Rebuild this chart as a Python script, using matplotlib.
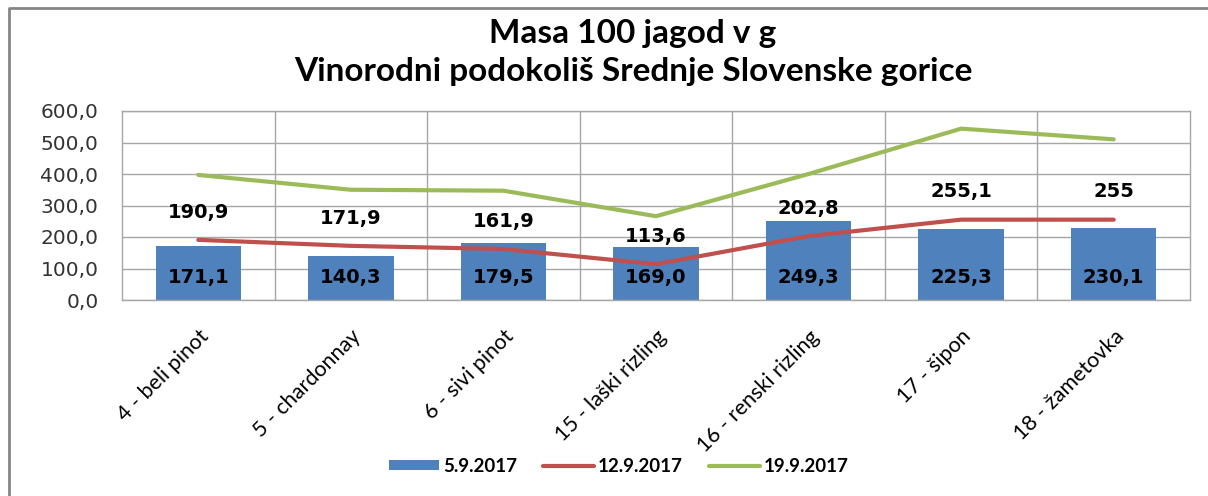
import matplotlib
matplotlib.use('Agg')
import matplotlib.pyplot as plt
from matplotlib.lines import Line2D

# data
sorte = ['4 - beli pinot', '5 - chardonnay', '6 - sivi pinot', '15 - laški rizling',
         '16 - renski rizling', '17 - šipon', '18 - žametovka']
masa_0509 = [171.1, 140.3, 179.5, 169.0, 249.3, 225.3, 230.1]
masa_1209 = [190.9, 171.9, 161.9, 113.6, 202.8, 255.1, 255.0]
labels_1209 = ['190,9', '171,9', '161,9', '113,6', '202,8', '255,1', '255']
masa_1909 = [397, 350, 347, 266, 400, 544, 510]
yticks = [0, 100, 200, 300, 400, 500, 600]

BLUE, RED, GREEN = '#4F81BD', '#C0504D', '#9BBB59'

fig = plt.figure(figsize=(12.08, 4.96), dpi=100)
ax = fig.add_axes([122 / 1208, 1 - 300 / 496, 1068 / 1208, 189 / 496])

x = list(range(len(sorte)))
b = ax.bar(x, masa_0509, width=0.56, color=BLUE, label='5.9.2017', zorder=2)
l1, = ax.plot(x, masa_1209, color=RED, lw=3, label='12.9.2017', zorder=3, solid_capstyle='round')
l2, = ax.plot(x, masa_1909, color=GREEN, lw=3, label='19.9.2017', zorder=3, solid_capstyle='round')

# data labels
for i, v in enumerate(masa_0509):
    ax.annotate(f'{v:.1f}'.replace('.', ','), (i, 0), xytext=(0, 16.5), textcoords='offset points',
                ha='center', va='center', fontsize=14, fontweight='bold', family='DejaVu Sans', zorder=4)
for i, v in enumerate(masa_1209):
    ax.annotate(labels_1209[i], (i, v), xytext=(0, 20), textcoords='offset points',
                ha='center', va='center', fontsize=14, fontweight='bold', family='DejaVu Sans', zorder=4)

ax.set_xlim(-0.5, len(sorte) - 0.5)
ax.set_ylim(0, 600)
ax.set_yticks(yticks)
ax.set_yticklabels([f'{t},0' for t in yticks], fontsize=14.5, family='DejaVu Sans', color='#333333')
ax.set_xticks(x)
ax.set_xticklabels(sorte, rotation=45, ha='right', rotation_mode='anchor',
                   fontsize=15.5, family='Lato')
ax.tick_params(axis='x', length=0, pad=19)
ax.tick_params(axis='y', length=0, pad=17)

# grid: horizontal at every 100, vertical between categories
ax.set_xticks([i + 0.5 for i in range(len(sorte) - 1)], minor=True)
ax.grid(axis='y', color='#A6A6A6', lw=1, zorder=0)
ax.grid(axis='x', which='minor', color='#A6A6A6', lw=1, zorder=0)
ax.grid(axis='x', which='major', visible=False)
ax.tick_params(axis='x', which='minor', length=0)
for s in ax.spines.values():
    s.set_color('#A6A6A6')
    s.set_linewidth(1)

fig.text(0.524, 1 - 33 / 496, 'Masa 100 jagod v g', ha='center', va='center',
         fontsize=24, fontweight='bold', family='Lato')
fig.text(0.524, 1 - 72 / 496, 'Vinorodni podokoliš Srednje Slovenske gorice', ha='center', va='center',
         fontsize=24, fontweight='bold', family='Lato')

fig.legend([b, l1, l2], ['5.9.2017', '12.9.2017', '19.9.2017'],
           loc='center', bbox_to_anchor=(0.512, 1 - 466 / 496), ncol=3, frameon=False,
           prop={'family': 'Lato', 'weight': 'bold', 'size': 13.5},
           handlelength=2.7, handleheight=0.45, columnspacing=1.4, handletextpad=0.2)

# chart frame (top and left edges, the rest is cut off)
fig.add_artist(Line2D([9 / 1208, 9 / 1208, 1.0], [0, 1 - 8 / 496, 1 - 8 / 496],
                      transform=fig.transFigure, color='#868686', lw=2))

plt.savefig('out.png', dpi=100)
